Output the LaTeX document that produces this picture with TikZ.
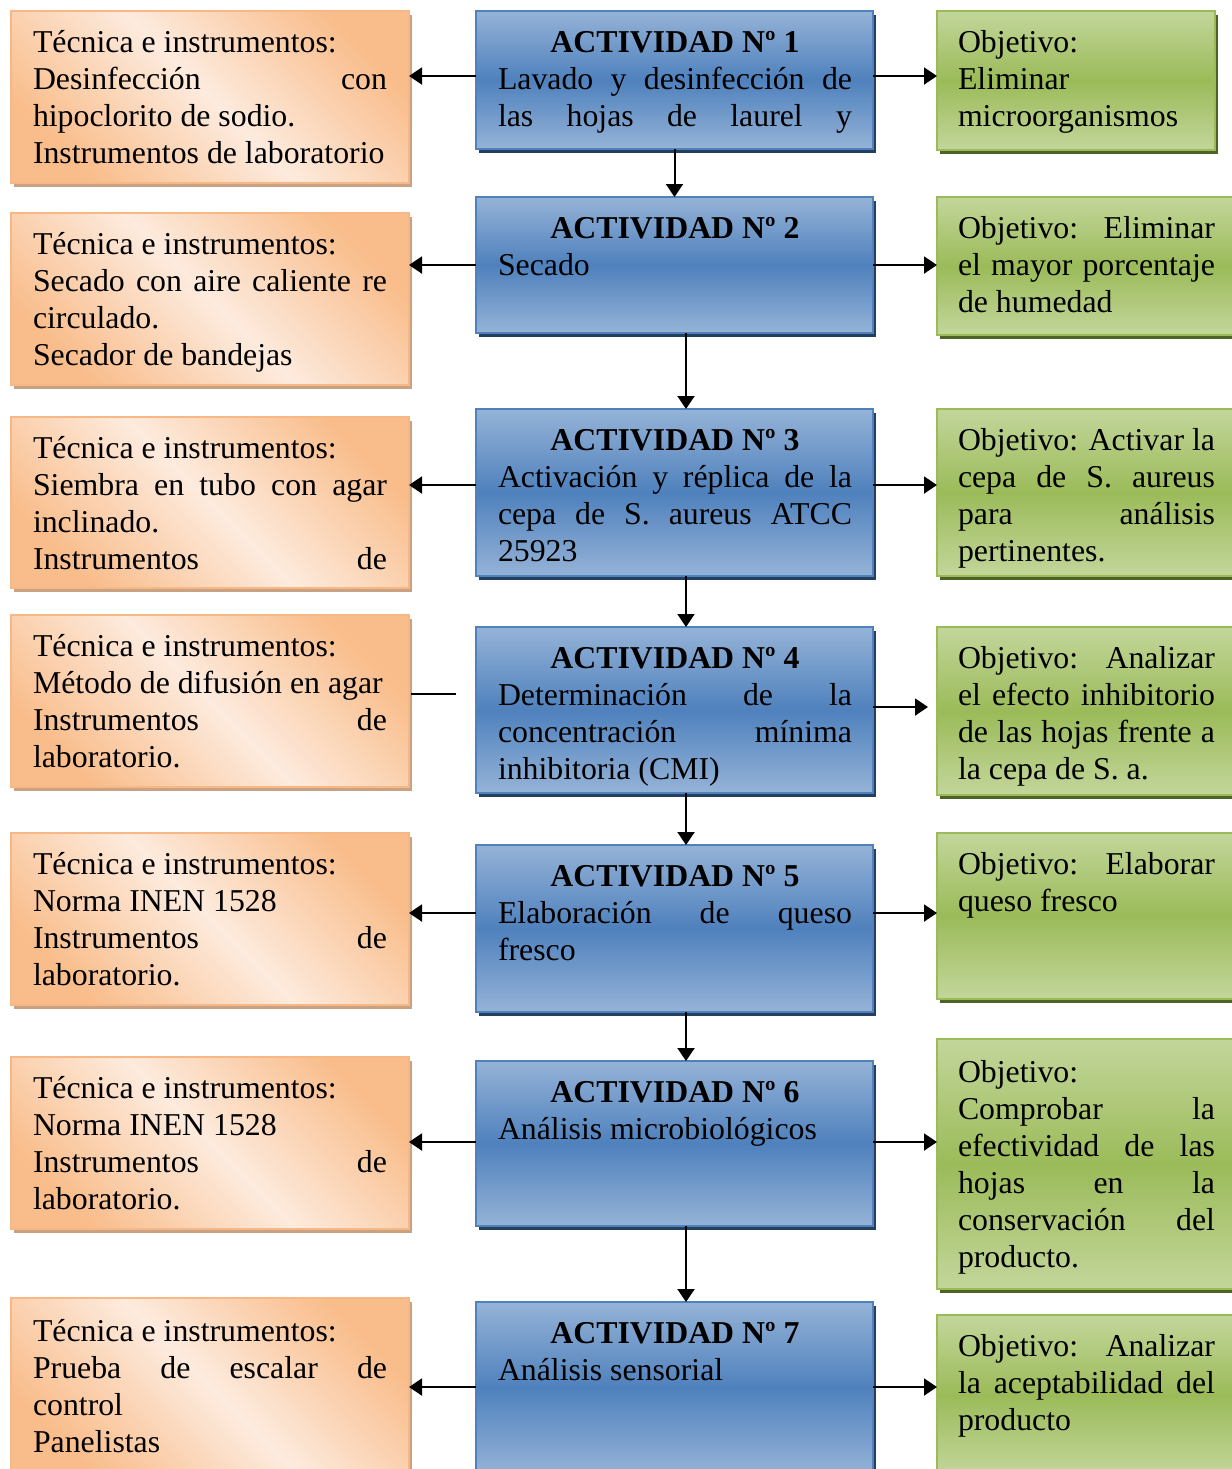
\documentclass[tikz,border=0pt]{standalone}
\usepackage{fontspec}
\setmainfont{Liberation Serif}
\usetikzlibrary{shadows,arrows.meta}
\definecolor{orS}{HTML}{F9BD8B}
\definecolor{orL}{HTML}{FDEBDE}
\definecolor{orB}{HTML}{F8B885}
\definecolor{orSh}{HTML}{C9A283}
\definecolor{blL}{HTML}{95B3D7}
\definecolor{blM}{HTML}{4F81BD}
\definecolor{blB}{HTML}{4F81BD}
\definecolor{blSh}{HTML}{243F60}
\definecolor{grL}{HTML}{C3D69B}
\definecolor{grM}{HTML}{9BBB59}
\definecolor{grB}{HTML}{9BBB59}
\definecolor{grSh}{HTML}{4F6228}
\newcommand\RS{\spaceskip=0pt\xspaceskip=0pt\relax}
\newcommand\ST{\RS\hyphenpenalty=10000\exhyphenpenalty=10000\strut}
\newcommand\JO[1]{\makebox[177pt][s]{\RS #1}}
\newcommand\JG[1]{\makebox[128.5pt][s]{\RS #1}}
\newcommand\NL[1]{\mbox{\RS #1}}
\newcommand\TT[1]{\makebox[177pt][c]{\RS\bfseries ACTIVIDAD Nº #1}}
\begin{document}
\begin{tikzpicture}[x=0.5pt,y=-0.5pt,
  boxbase/.style={anchor=north west, line width=1pt, inner sep=0pt, outer sep=0pt},
  obox/.style={boxbase, draw=orB, top color=orS, bottom color=orS, middle color=orL, shading angle=-45,
    drop shadow={shadow xshift=1.6pt, shadow yshift=-1.8pt, fill=orSh, opacity=1}, minimum width=199pt},
  bbox/.style={boxbase, draw=blB, top color=blL, bottom color=blL, middle color=blM,
    drop shadow={shadow xshift=1.6pt, shadow yshift=-1.8pt, fill=blSh, opacity=1}, minimum width=198.5pt},
  gbox/.style={boxbase, draw=grB, top color=grL, bottom color=grL, middle color=grM,
    drop shadow={shadow xshift=1.6pt, shadow yshift=-1.8pt, fill=grSh, opacity=1}, minimum width=150pt},
  txt/.style={anchor=north west, inner sep=0pt, outer sep=0pt, text width=177pt, align=left,
    font=\fontsize{15.9}{18.5}\selectfont},
  gtxt/.style={txt, text width=128.5pt},
  arr/.style={line width=1pt, -{Triangle[length=6.5pt,width=8.5pt]}},
  plain/.style={line width=1pt}]
\useasboundingbox (0,0) rectangle (1232,1469);
\clip (0,0) rectangle (1232,1469);

% orange boxes
\node[obox, minimum height=86pt] (o1) at (11,11) {};
\node[obox, minimum height=86pt] (o2) at (11,213) {};
\node[obox, minimum height=85.5pt] (o3) at (11,417) {};
\node[obox, minimum height=86pt] (o4) at (11,615) {};
\node[obox, minimum height=86pt] (o5) at (11,833) {};
\node[obox, minimum height=86pt] (o6) at (11,1057) {};
\node[obox, minimum height=88pt] (o7) at (11,1298) {};
% blue boxes
\node[bbox, minimum height=69pt] (b1) at (476,11) {};
\node[bbox, minimum height=68pt] (b2) at (476,197) {};
\node[bbox, minimum height=83.5pt] (b3) at (476,409) {};
\node[bbox, minimum height=83pt] (b4) at (476,627) {};
\node[bbox, minimum height=83.5pt] (b5) at (476,845) {};
\node[bbox, minimum height=82.5pt] (b6) at (476,1061) {};
\node[bbox, minimum height=86pt] (b7) at (476,1302) {};
% green boxes
\node[gbox, minimum width=139pt, minimum height=69.5pt] (g1) at (937,11) {};
\node[gbox, minimum height=69pt] (g2) at (937,197) {};
\node[gbox, minimum height=83.5pt] (g3) at (937,409) {};
\node[gbox, minimum height=84pt] (g4) at (937,627) {};
\node[gbox, minimum height=83pt] (g5) at (937,833) {};
\node[gbox, minimum height=125pt] (g6) at (937,1039) {};
\node[gbox, minimum height=80pt] (g7) at (937,1315) {};

% texts
\node[txt] (o1t) at ([shift={(11pt,-7.8pt)}]o1.north west) {\ST Técnica e instrumentos:\\ \JO{Desinfección con}\\ \NL{hipoclorito de sodio.}\\ \NL{Instrumentos de laboratorio}};
\node[txt] (o2t) at ([shift={(11pt,-7.8pt)}]o2.north west) {\ST Técnica e instrumentos:\\ \JO{Secado con aire caliente re}\\ circulado.\\ \NL{Secador de bandejas}};
\node[txt] (o3t) at ([shift={(11pt,-7.8pt)}]o3.north west) {\ST Técnica e instrumentos:\\ \JO{Siembra en tubo con agar}\\ inclinado.\\ \JO{Instrumentos de}};
\node[txt] (o4t) at ([shift={(11pt,-7.8pt)}]o4.north west) {\ST Técnica e instrumentos:\\ \NL{Método de difusión en agar}\\ \JO{Instrumentos de}\\ laboratorio.};
\node[txt] (o5t) at ([shift={(11pt,-7.8pt)}]o5.north west) {\ST Técnica e instrumentos:\\ \NL{Norma INEN 1528}\\ \JO{Instrumentos de}\\ laboratorio.};
\node[txt] (o6t) at ([shift={(11pt,-7.8pt)}]o6.north west) {\ST Técnica e instrumentos:\\ \NL{Norma INEN 1528}\\ \JO{Instrumentos de}\\ laboratorio.};
\node[txt] (o7t) at ([shift={(11pt,-8.8pt)}]o7.north west) {\ST Técnica e instrumentos:\\ \JO{Prueba de escalar de}\\ control\\ Panelistas};

\node[txt] (b1t) at ([shift={(11pt,-7.8pt)}]b1.north west) {\ST\TT{1}\\ \JO{Lavado y desinfección de}\\ \JO{las hojas de laurel y}};
\node[txt] (b2t) at ([shift={(11pt,-7.8pt)}]b2.north west) {\ST\TT{2}\\ Secado};
\node[txt] (b3t) at ([shift={(11pt,-7.8pt)}]b3.north west) {\ST\TT{3}\\ \JO{Activación y réplica de la}\\ \JO{cepa de S. aureus ATCC}\\ 25923};
\node[txt] (b4t) at ([shift={(11pt,-7.8pt)}]b4.north west) {\ST\TT{4}\\ \JO{Determinación de la}\\ \JO{concentración mínima}\\ \NL{inhibitoria (CMI)}};
\node[txt] (b5t) at ([shift={(11pt,-7.8pt)}]b5.north west) {\ST\TT{5}\\ \JO{Elaboración de queso}\\ fresco};
\node[txt] (b6t) at ([shift={(11pt,-7.8pt)}]b6.north west) {\ST\TT{6}\\ \NL{Análisis microbiológicos}};
\node[txt] (b7t) at ([shift={(11pt,-7.8pt)}]b7.north west) {\ST\TT{7}\\ \NL{Análisis sensorial}};

\node[gtxt] (g1t) at ([shift={(10.5pt,-7.8pt)}]g1.north west) {\ST Objetivo:\\ Eliminar\\ microorganismos};
\node[gtxt] (g2t) at ([shift={(10.5pt,-7.8pt)}]g2.north west) {\ST\JG{Objetivo: Eliminar}\\ \JG{el mayor porcentaje}\\ \NL{de humedad}};
\node[gtxt] (g3t) at ([shift={(10.5pt,-7.8pt)}]g3.north west) {\ST\JG{Objetivo: Activar la}\\ \JG{cepa de S. aureus}\\ \JG{para análisis}\\ pertinentes.};
\node[gtxt] (g4t) at ([shift={(10.5pt,-7.8pt)}]g4.north west) {\ST\JG{Objetivo: Analizar}\\ \JG{el efecto inhibitorio}\\ \JG{de las hojas frente a}\\ \NL{la cepa de S. a.}};
\node[gtxt] (g5t) at ([shift={(10.5pt,-7.8pt)}]g5.north west) {\ST\JG{Objetivo: Elaborar}\\ \NL{queso fresco}};
\node[gtxt] (g6t) at ([shift={(10.5pt,-8.8pt)}]g6.north west) {\ST Objetivo:\\ \JG{Comprobar la}\\ \JG{efectividad de las}\\ \JG{hojas en la}\\ \JG{conservación del}\\ producto.};
\node[gtxt] (g7t) at ([shift={(10.5pt,-7.8pt)}]g7.north west) {\ST\JG{Objetivo: Analizar}\\ \JG{la aceptabilidad del}\\ producto};

% row levels
\coordinate (y1) at (0,76);
\coordinate (y2) at (0,265);
\coordinate (y3) at (0,485);
\coordinate (y4l) at (0,694);
\coordinate (y4r) at (0,707);
\coordinate (y5) at (0,913);
\coordinate (y6) at (0,1142);
\coordinate (y7) at (0,1387);
\coordinate (xd) at (686,0);
\coordinate (l4s) at (411,694);
\coordinate (l4e) at (456,694);
\coordinate (r4e) at (928,707);

% left arrows
\draw[arr] (b1.west |- y1) -- (o1.east |- y1);
\draw[arr] (b2.west |- y2) -- (o2.east |- y2);
\draw[arr] (b3.west |- y3) -- (o3.east |- y3);
\draw[plain] (l4s) -- (l4e);
\draw[arr] (b5.west |- y5) -- (o5.east |- y5);
\draw[arr] (b6.west |- y6) -- (o6.east |- y6);
\draw[arr] (b7.west |- y7) -- (o7.east |- y7);
% right arrows
\draw[arr] (b1.east |- y1) -- (g1.west |- y1);
\draw[arr] (b2.east |- y2) -- (g2.west |- y2);
\draw[arr] (b3.east |- y3) -- (g3.west |- y3);
\draw[arr] (b4.east |- y4r) -- (r4e);
\draw[arr] (b5.east |- y5) -- (g5.west |- y5);
\draw[arr] (b6.east |- y6) -- (g6.west |- y6);
\draw[arr] (b7.east |- y7) -- (g7.west |- y7);
% down arrows
\draw[arr] (b1.south) -- (b2.north);
\draw[arr] (b2.south -| xd) -- (b3.north -| xd);
\draw[arr] (b3.south -| xd) -- (b4.north -| xd);
\draw[arr] (b4.south -| xd) -- (b5.north -| xd);
\draw[arr] (b5.south -| xd) -- (b6.north -| xd);
\draw[arr] (b6.south -| xd) -- (b7.north -| xd);
\end{tikzpicture}
\end{document}
